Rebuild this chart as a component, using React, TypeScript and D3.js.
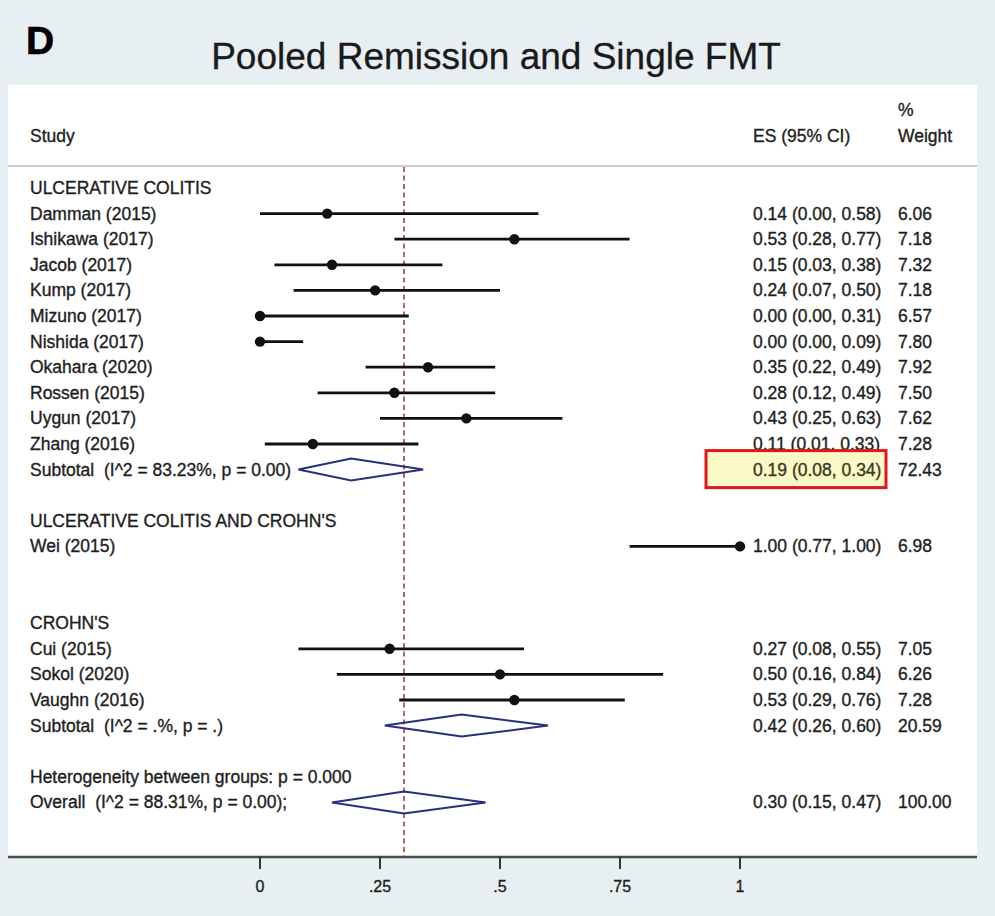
import React from "react";
import * as d3 from "d3";

// ---- data ----
const ucStudies = ["Damman (2015)", "Ishikawa (2017)", "Jacob (2017)", "Kump (2017)", "Mizuno (2017)", "Nishida (2017)", "Okahara (2020)", "Rossen (2015)", "Uygun (2017)", "Zhang (2016)"];
const ucES = [0.14, 0.53, 0.15, 0.24, 0.0, 0.0, 0.35, 0.28, 0.43, 0.11];
const ucLo = [0.0, 0.28, 0.03, 0.07, 0.0, 0.0, 0.22, 0.12, 0.25, 0.01];
const ucHi = [0.58, 0.77, 0.38, 0.5, 0.31, 0.09, 0.49, 0.49, 0.63, 0.33];
const ucWeight = [6.06, 7.18, 7.32, 7.18, 6.57, 7.8, 7.92, 7.5, 7.62, 7.28];

const mixStudies = ["Wei (2015)"];
const mixES = [1.0];
const mixLo = [0.77];
const mixHi = [1.0];
const mixWeight = [6.98];

const cdStudies = ["Cui (2015)", "Sokol (2020)", "Vaughn (2016)"];
const cdES = [0.27, 0.5, 0.53];
const cdLo = [0.08, 0.16, 0.29];
const cdHi = [0.55, 0.84, 0.76];
const cdWeight = [7.05, 6.26, 7.28];

const groupHeaders = ["ULCERATIVE COLITIS", "ULCERATIVE COLITIS AND CROHN'S", "CROHN'S"];
const subtotalLabels = ["Subtotal  (I^2 = 83.23%, p = 0.00)", "Subtotal  (I^2 = .%, p = .)"];
const subtotalES = [0.19, 0.42];
const subtotalLo = [0.08, 0.26];
const subtotalHi = [0.34, 0.6];
const subtotalWeight = [72.43, 20.59];

const heterogeneityLabel = "Heterogeneity between groups: p = 0.000";
const overallLabel = "Overall  (I^2 = 88.31%, p = 0.00);";
const overallES = 0.3;
const overallLo = 0.15;
const overallHi = 0.47;
const overallWeight = 100.0;

const tickValues = [0, 0.25, 0.5, 0.75, 1];
const tickLabels = ["0", ".25", ".5", ".75", "1"];

// ---- rows ----
type Row =
  | { kind: "header"; label: string }
  | { kind: "study"; label: string; es: number; lo: number; hi: number; w: number }
  | { kind: "subtotal"; label: string; es: number; lo: number; hi: number; w: number; highlight?: boolean }
  | { kind: "text"; label: string }
  | { kind: "blank" };

const rows: Row[] = [];
rows.push({ kind: "header", label: groupHeaders[0] });
ucStudies.forEach((s, i) => rows.push({ kind: "study", label: s, es: ucES[i], lo: ucLo[i], hi: ucHi[i], w: ucWeight[i] }));
rows.push({ kind: "subtotal", label: subtotalLabels[0], es: subtotalES[0], lo: subtotalLo[0], hi: subtotalHi[0], w: subtotalWeight[0], highlight: true });
rows.push({ kind: "blank" });
rows.push({ kind: "header", label: groupHeaders[1] });
mixStudies.forEach((s, i) => rows.push({ kind: "study", label: s, es: mixES[i], lo: mixLo[i], hi: mixHi[i], w: mixWeight[i] }));
rows.push({ kind: "blank" });
rows.push({ kind: "blank" });
rows.push({ kind: "header", label: groupHeaders[2] });
cdStudies.forEach((s, i) => rows.push({ kind: "study", label: s, es: cdES[i], lo: cdLo[i], hi: cdHi[i], w: cdWeight[i] }));
rows.push({ kind: "subtotal", label: subtotalLabels[1], es: subtotalES[1], lo: subtotalLo[1], hi: subtotalHi[1], w: subtotalWeight[1] });
rows.push({ kind: "blank" });
rows.push({ kind: "text", label: heterogeneityLabel });
rows.push({ kind: "subtotal", label: overallLabel, es: overallES, lo: overallLo, hi: overallHi, w: overallWeight });

const W = 995;
const H = 916;
const FONT = "'Liberation Sans', Arial, Helvetica, sans-serif";

export default function App() {
  const x = d3.scaleLinear().domain([0, 1]).range([260, 740]);
  const y = d3.scaleLinear().domain([0, rows.length - 1]).range([188, 188 + (rows.length - 1) * 25.6]);
  const f2 = d3.format(".2f");
  const esText = (r: { es: number; lo: number; hi: number }) => `${f2(r.es)} (${f2(r.lo)}, ${f2(r.hi)})`;

  const panelLeft = 8;
  const panelRight = 977;
  const panelTop = 85;
  const axisY = 857;
  const textColor = "#1e1e1e";
  const diamondColor = "#25307f";
  const dh = 11;
  const fs = 17.5;
  const txt = { fontFamily: FONT, fontSize: fs, fill: textColor, stroke: textColor, strokeWidth: 0.35 };

  return (
    <svg width={W} height={H} viewBox={`0 0 ${W} ${H}`} style={{ position: "absolute", left: 0, top: 0, display: "block" }}>
      <rect x={0} y={0} width={W} height={H} fill="#e7eff2" />
      <rect x={panelLeft} y={panelTop} width={panelRight - panelLeft} height={axisY - panelTop} fill="#ffffff" />

      {/* Panel letter and title */}
      <text x={26} y={54} fontFamily={FONT} fontWeight="bold" fontSize={39} fill="#000" stroke="#000" strokeWidth={0.6}>D</text>
      <text x={496} y={69} fontFamily={FONT} fontSize={37} fill="#1a1a1a" stroke="#1a1a1a" strokeWidth={0.3} textAnchor="middle">Pooled Remission and Single FMT</text>

      {/* Column headers */}
      <g {...txt}>
        <text x={30} y={142}>Study</text>
        <text x={753} y={142}>ES (95% CI)</text>
        <text x={898} y={116}>%</text>
        <text x={898} y={142}>Weight</text>
      </g>
      <line x1={panelLeft} x2={panelRight} y1={166} y2={166} stroke="#b9bec0" strokeWidth={1.5} />

      {/* Reference dashed line at overall estimate */}
      <line x1={x(overallES)} x2={x(overallES)} y1={167} y2={axisY} stroke="#a83a48" strokeWidth={1.6} strokeDasharray="5,3.5" />

      {/* Rows */}
      {rows.map((r, i) => {
        const cy = y(i);
        const ty = cy + 6;
        if (r.kind === "blank") return null;
        if (r.kind === "header" || r.kind === "text") {
          return (
            <text key={i} x={30} y={ty} {...txt}>{r.label}</text>
          );
        }
        if (r.kind === "study") {
          return (
            <g key={i}>
              <text x={30} y={ty} {...txt}>{r.label}</text>
              <line x1={x(r.lo)} x2={x(r.hi)} y1={cy} y2={cy} stroke="#111" strokeWidth={2.8} />
              <circle cx={x(r.es)} cy={cy} r={5.2} fill="#111" />
              <text x={753} y={ty} {...txt}>{esText(r)}</text>
              <text x={898} y={ty} {...txt}>{f2(r.w)}</text>
            </g>
          );
        }
        const pts = [
          [x(r.lo), cy],
          [x(r.es), cy - dh],
          [x(r.hi), cy],
          [x(r.es), cy + dh],
        ];
        return (
          <g key={i}>
            <text x={30} y={ty} {...txt} style={{ whiteSpace: "pre" }}>{r.label}</text>
            {r.highlight && (
              <rect x={706} y={cy - 19} width={180} height={37} fill="#fbf9c6" stroke="#e3161b" strokeWidth={3} />
            )}
            <polygon points={pts.map((p) => p.join(",")).join(" ")} fill="none" stroke={diamondColor} strokeWidth={2} />
            <text x={753} y={ty} {...txt} fill={r.highlight ? "#3a3a22" : textColor} stroke={r.highlight ? "#3a3a22" : textColor}>{esText(r)}</text>
            <text x={898} y={ty} {...txt}>{f2(r.w)}</text>
          </g>
        );
      })}

      {/* X axis */}
      <line x1={panelLeft} x2={panelRight} y1={axisY} y2={axisY} stroke="#4a4a4a" strokeWidth={2.5} />
      {tickValues.map((t, i) => (
        <g key={t}>
          <line x1={x(t)} x2={x(t)} y1={axisY} y2={axisY + 12} stroke="#333" strokeWidth={2} />
          <text x={x(t)} y={892} textAnchor="middle" {...txt} fontSize={16}>{tickLabels[i]}</text>
        </g>
      ))}
    </svg>
  );
}
